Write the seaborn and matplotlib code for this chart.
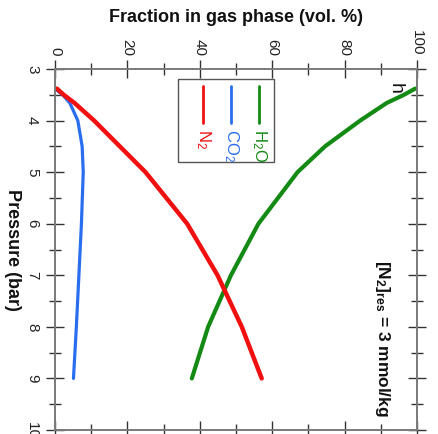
import matplotlib
matplotlib.use("Agg")
import matplotlib.pyplot as plt
from matplotlib.ticker import MultipleLocator
from matplotlib.patches import Rectangle
from matplotlib.lines import Line2D
import pandas as pd
import seaborn as sns

# Gas-phase composition versus pressure
pressure = [3.38, 3.5, 3.66, 4, 4.5, 5, 6, 7, 8, 9]
h2o = [99.5, 96.4, 91.6, 84.3, 74.6, 67.0, 56.2, 48.6, 42.3, 37.8]
co2 = [0.0, 2.1, 4.1, 6.3, 7.5, 7.8, 7.3, 6.6, 5.9, 5.1]
n2 = [0.5, 2.4, 5.4, 10.8, 17.9, 25.0, 36.5, 44.9, 51.6, 57.1]

fraction_ticks = [0, 20, 40, 60, 80, 100]
pressure_ticks = [3, 4, 5, 6, 7, 8, 9, 10]

series_names = ["H$_2$O", "CO$_2$", "N$_2$"]
series_colors = ["#138a13", "#2a6ef0", "#f01010"]
series_widths = [3.0, 2.3, 3.2]

sns.set_style("white")
plt.rcParams["font.family"] = ["Liberation Sans", "DejaVu Sans"]
plt.rcParams["mathtext.fontset"] = "custom"
plt.rcParams["mathtext.rm"] = "Liberation Sans"
plt.rcParams["mathtext.it"] = "Liberation Sans:italic"
plt.rcParams["mathtext.bf"] = "Liberation Sans:bold"

df = pd.DataFrame({"pressure": pressure, "H2O": h2o, "CO2": co2, "N2": n2})

fig = plt.figure(figsize=(4.38, 4.34), dpi=100)
ax = fig.add_axes([55 / 438, 4 / 434, 362 / 438, 361 / 434])

for col, color, lw in zip(["H2O", "CO2", "N2"], series_colors, series_widths):
    sns.lineplot(data=df, x=col, y="pressure", sort=False, orient="y",
                 color=color, linewidth=lw, ax=ax)

ax.set_xlim(0, 100)
ax.set_ylim(10, 3)
ax.set_xticks(fraction_ticks)
ax.set_yticks(pressure_ticks)
ax.xaxis.set_minor_locator(MultipleLocator(10))
ax.yaxis.set_minor_locator(MultipleLocator(0.5))

ax.tick_params(axis="both", which="both", direction="inout", color="#333333",
               width=1.0, top=True, bottom=True, left=True, right=True,
               labeltop=True, labelbottom=False, labelleft=True, labelright=False,
               labelsize=11, labelcolor="#222222")
ax.tick_params(axis="both", which="major", length=13)
ax.tick_params(axis="both", which="minor", length=8)
ax.tick_params(axis="x", which="major", pad=3, labelrotation=-90)
ax.tick_params(axis="y", which="major", pad=5, labelrotation=-90)
for lab in ax.get_yticklabels():
    lab.set_verticalalignment("center")

for sp in ax.spines.values():
    sp.set_color("#7a7a7a")
    sp.set_linewidth(1.4)

ax.xaxis.set_label_position("top")
ax.set_xlabel("Fraction in gas phase (vol. %)", fontsize=13, fontweight="bold",
              labelpad=6, color="#111111")
ax.set_ylabel("Pressure (bar)", fontsize=13, fontweight="bold", rotation=-90,
              va="top", labelpad=3, color="#111111")

# Legend drawn sideways to follow the rotated layout
ax.add_patch(Rectangle((0.340, 0.742), 0.265, 0.230, transform=ax.transAxes,
                       facecolor="white", edgecolor="#555555", linewidth=1.0,
                       zorder=5))
legend_x = [0.564, 0.486, 0.409]
for name, color, lx in zip(series_names, series_colors, legend_x):
    ax.add_line(Line2D([lx, lx], [0.953, 0.850], transform=ax.transAxes,
                       color=color, linewidth=2.0, zorder=6))
    ax.text(lx, 0.835, name, transform=ax.transAxes, color=color, fontsize=12,
            rotation=-90, rotation_mode="anchor", ha="left", va="center",
            zorder=6)

ax.text(0.939, 0.962, "h", transform=ax.transAxes, fontsize=14, rotation=-90,
        rotation_mode="anchor", ha="left", va="center", color="#111111")
ax.text(0.905, 0.472, r"$\mathbf{[N_{2}]_{res}}$ = 3 mmol/kg",
        transform=ax.transAxes, fontsize=12.5, fontweight="bold", rotation=-90,
        rotation_mode="anchor", ha="left", va="center", color="#111111")

fig.savefig("out.png", dpi=100)
